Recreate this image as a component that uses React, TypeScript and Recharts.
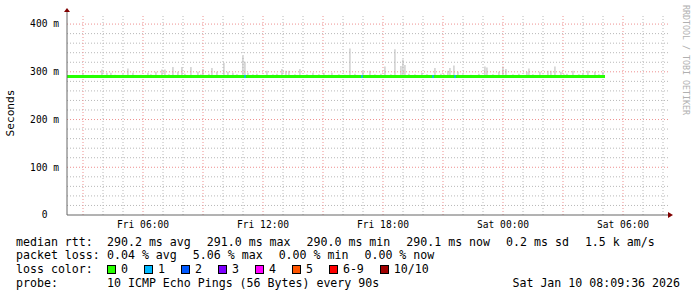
import React from 'react';
import {
  Bar,
  ComposedChart,
  Line,
  ReferenceDot,
  ReferenceLine,
  Scatter,
  XAxis,
  YAxis,
} from 'recharts';

/* ------------------------------------------------------------------ */
/*  Data (x = hours since Fri 00:00, y = milliseconds)                */
/* ------------------------------------------------------------------ */

const timeStart = 2.2;
const timeEnd = 32.25;
const yMax = 419;

const labelHours = [6, 12, 18, 24, 30];
const labelNames = ['Fri 06:00', 'Fri 12:00', 'Fri 18:00', 'Sat 00:00', 'Sat 06:00'];
const majorHours = [3, 6, 9, 12, 15, 18, 21, 24, 27, 30];
const minorHours = [4, 5, 7, 8, 10, 11, 13, 14, 16, 17, 19, 20, 22, 23, 25, 26, 28, 29, 31, 32];
const yTicks = [0, 100, 200, 300, 400];
const majorMs = [100, 200, 300, 400];
const minorMs = [
  20, 40, 60, 80, 120, 140, 160, 180, 220, 240, 260, 280, 320, 340, 360, 380,
];

const medianHours = [
  2.2, 3, 4, 5, 6, 7, 8, 9, 10, 11, 12, 13, 14, 15, 16, 17, 18, 19, 20, 21, 22, 23, 24, 25, 26, 27,
  28, 29, 29.1,
];
const medianMs = [
  290.2, 290.2, 290.1, 290.2, 290.2, 290.3, 290.2, 290.2, 290.1, 290.3, 290.2, 290.2, 290.2, 290.1,
  290.2, 290.3, 290.2, 290.2, 290.2, 290.1, 290.2, 290.2, 290.3, 290.2, 290.2, 290.1, 290.2, 290.1,
  290.1,
];

// smoke columns: time and highest ping of the column
const smokeHours = [
  3.0, 3.5, 3.95, 4.2, 4.4, 4.6, 5.0, 5.25, 5.5, 5.9, 6.25, 6.4, 6.65, 6.95, 7.1, 7.3, 7.5, 7.75,
  7.95, 8.1, 8.4, 8.75, 8.9, 9.0, 9.3, 9.45, 9.7, 10.05, 10.25, 10.5, 10.7, 11.0, 11.1, 11.25, 11.5,
  11.7, 12.2, 12.5, 12.7, 12.95, 13.15, 13.3, 13.6, 13.85, 14.2, 14.5, 14.8, 15.05, 15.3, 15.45,
  15.8, 16.1, 16.35, 16.6, 17.0, 17.35, 17.6, 17.9, 18.1, 18.4, 18.6, 18.9, 19.0, 19.1, 19.3, 19.6,
  19.95, 20.2, 20.6, 20.9, 21.05, 21.25, 21.35, 21.55, 21.75, 22.0, 22.4, 22.8, 23.1, 23.2, 23.5,
  23.8, 24.0, 24.15, 24.5, 24.8, 25.2, 25.3, 25.5, 25.85, 26.0, 26.25, 26.4, 26.6, 26.9, 27.05, 27.2,
  27.5, 27.8, 28.0, 28.25, 28.6, 28.8, 29.0,
];
const smokeTopMs = [
  297, 294, 305, 298, 298, 294, 295, 307, 298, 294, 298, 295, 300, 305, 305, 295, 310, 300,
  310, 296, 310, 300, 295, 306, 296, 308, 300, 319, 300, 298, 295, 333, 321, 298, 295,
  296, 302, 295, 296, 306, 302, 302, 295, 306, 295, 298, 295, 298, 294, 298,
  295, 294, 349, 296, 302, 302, 295, 296, 311, 295, 347, 312, 326, 314, 296, 295,
  298, 295, 308, 296, 295, 302, 308, 313, 300, 295, 294, 296, 311, 309, 295,
  300, 311, 306, 295, 296, 300, 307, 295, 300, 294, 302, 302, 311, 300, 295, 296,
  302, 295, 296, 302, 300, 295, 300,
];

// samples where 1 of 10 pings was lost
const lossHours = [11.1, 16.95, 20.5, 21.6];
const lossMs = [290.2, 290.2, 290.2, 290.1];

const rttLabels = ['290.2 ms avg', '291.0 ms max', '290.0 ms min', '290.1 ms now', '0.2 ms sd', '1.5 k am/s'];
const lossLabels = ['0.04 % avg', '5.06 % max', '0.00 % min', '0.00 % now'];
const lossColorNames = ['0', '1', '2', '3', '4', '5', '6-9', '10/10'];
const lossColors = ['#26ff00', '#00b8ff', '#0059ff', '#7e00ff', '#ff00ff', '#ff5500', '#ff0000', '#a10000'];

/* ------------------------------------------------------------------ */
/*  Styles                                                            */
/* ------------------------------------------------------------------ */

const FONT = '"DejaVu Sans Mono", monospace';
const AXIS = '#666';
const ARROW = '#800000';
const GRID = '#b8b8b8';
const MGRID = '#ee9090';
const SMOKE = '#b0b0b0';
const LEGEND_SIZE = 11.6;
const AXIS_SIZE = 9.6;

const smokeData = smokeHours.map((h, i) => ({ h, range: [medianMs[0], smokeTopMs[i]] }));
const medianData = medianHours.map((h, i) => ({ h, v: medianMs[i] }));
const lossData = lossHours.map((h, i) => ({ h, v: lossMs[i] }));

function XTick({ x, y, payload }: any) {
  const idx = labelHours.indexOf(payload.value);
  return (
    <text x={x} y={y} dy="0.35em" textAnchor="middle" fontFamily={FONT} fontSize={AXIS_SIZE} fill="#000">
      {labelNames[idx]}
    </text>
  );
}

function YTick({ x, y, payload }: any) {
  const v = payload.value;
  return (
    <text
      x={v === 0 ? x - AXIS_SIZE * 1.2 : x}
      y={y}
      dy="0.35em"
      textAnchor="end"
      fontFamily={FONT}
      fontSize={AXIS_SIZE}
      fill="#000"
    >
      {v === 0 ? '0' : `${v} m`}
    </text>
  );
}

function LossMark({ cx, cy }: any) {
  return <rect x={cx - 0.75} y={cy - 1.5} width={1.5} height={3} fill={lossColors[1]} />;
}

function RightArrow({ cx, cy }: any) {
  return (
    <g>
      <line x1={cx} y1={cy} x2={cx + 2} y2={cy} stroke={AXIS} />
      <path d={`M${cx} ${cy - 3}L${cx + 5} ${cy}L${cx} ${cy + 3}Z`} fill={ARROW} />
    </g>
  );
}

function UpArrow({ cx, cy }: any) {
  return (
    <g>
      <line x1={cx} y1={cy} x2={cx} y2={cy - 3} stroke={AXIS} />
      <path d={`M${cx - 3} ${cy - 3}L${cx} ${cy - 7}L${cx + 3} ${cy - 3}Z`} fill={ARROW} />
    </g>
  );
}

function Row({ top, label, children }: { top: number; label: string; children?: React.ReactNode }) {
  return (
    <div
      style={{
        position: 'absolute',
        top,
        left: 16,
        height: 14,
        lineHeight: '14px',
        whiteSpace: 'pre',
        fontSize: LEGEND_SIZE,
        display: 'flex',
      }}
    >
      <span style={{ width: 91 }}>{label}</span>
      <span style={{ display: 'flex', gap: 16 }}>{children}</span>
    </div>
  );
}

export default function App() {
  return (
    <div
      style={{
        position: 'absolute',
        left: 0,
        top: 0,
        width: 697,
        height: 297,
        background: '#fff',
        overflow: 'hidden',
        fontFamily: FONT,
        color: '#000',
      }}
    >
      <ComposedChart width={697} height={297} data={smokeData} margin={{ top: 15, right: 29, bottom: 62, left: 7 }}>
        <XAxis
          dataKey="h"
          type="number"
          domain={[timeStart, timeEnd]}
          ticks={labelHours}
          tick={<XTick />}
          tickSize={4}
          tickMargin={5.5}
          tickLine={false}
          axisLine={{ stroke: AXIS }}
          height={20}
          allowDataOverflow
        />
        <YAxis
          type="number"
          domain={[0, yMax]}
          ticks={yTicks}
          tick={<YTick />}
          width={60}
          tickSize={4}
          tickMargin={4}
          tickLine={false}
          axisLine={{ stroke: AXIS }}
          allowDataOverflow
        />
        {minorHours.map((h) => (
          <ReferenceLine key={`mh${h}`} x={h} stroke={GRID} strokeDasharray="1 2" />
        ))}
        {minorMs.map((v) => (
          <ReferenceLine key={`mv${v}`} y={v} stroke={GRID} strokeDasharray="1 2" />
        ))}
        {majorHours.map((h) => (
          <ReferenceLine key={`Mh${h}`} x={h} stroke={MGRID} strokeDasharray="1 2" />
        ))}
        {majorMs.map((v) => (
          <ReferenceLine key={`Mv${v}`} y={v} stroke={MGRID} strokeDasharray="1 2" />
        ))}
        <Bar dataKey="range" fill={SMOKE} barSize={1} isAnimationActive={false} />
        <Line
          data={medianData}
          dataKey="v"
          type="linear"
          stroke={lossColors[0]}
          strokeWidth={3}
          dot={false}
          activeDot={false}
          isAnimationActive={false}
        />
        <Scatter data={lossData} dataKey="v" shape={<LossMark />} isAnimationActive={false} />
        <ReferenceDot x={timeEnd} y={0} r={0} ifOverflow="visible" shape={<RightArrow />} />
        <ReferenceDot x={timeStart} y={yMax} r={0} ifOverflow="visible" shape={<UpArrow />} />
      </ComposedChart>

      <div
        style={{
          position: 'absolute',
          left: 11,
          top: 113,
          transform: 'translate(-50%, -50%) rotate(-90deg)',
          whiteSpace: 'nowrap',
          fontSize: 11.2,
          lineHeight: 1,
        }}
      >
        Seconds
      </div>

      <div
        style={{
          position: 'absolute',
          left: 681,
          top: 5,
          width: 10,
          writingMode: 'vertical-rl',
          fontSize: 8.3,
          lineHeight: '10px',
          color: '#b0b0b0',
          whiteSpace: 'nowrap',
        }}
      >
        RRDTOOL / TOBI OETIKER
      </div>

      <Row top={235} label="median rtt:">
        {rttLabels.map((t) => (
          <span key={t}>{t}</span>
        ))}
      </Row>
      <Row top={248} label="packet loss:">
        {lossLabels.map((t) => (
          <span key={t}>{t}</span>
        ))}
      </Row>
      <Row top={262} label="loss color:">
        {lossColorNames.map((name, i) => (
          <span key={name} style={{ display: 'flex', alignItems: 'center' }}>
            <span
              style={{
                width: 9,
                height: 9,
                boxSizing: 'border-box',
                border: '1px solid #000',
                background: lossColors[i],
                marginRight: 5,
              }}
            />
            {name}
          </span>
        ))}
      </Row>
      <Row top={276} label="probe:">
        <span>10 ICMP Echo Pings (56 Bytes) every 90s</span>
      </Row>
      <div
        style={{
          position: 'absolute',
          top: 276,
          right: 17,
          lineHeight: '14px',
          fontSize: LEGEND_SIZE,
          whiteSpace: 'pre',
        }}
      >
        Sat Jan 10 08:09:36 2026
      </div>
    </div>
  );
}
